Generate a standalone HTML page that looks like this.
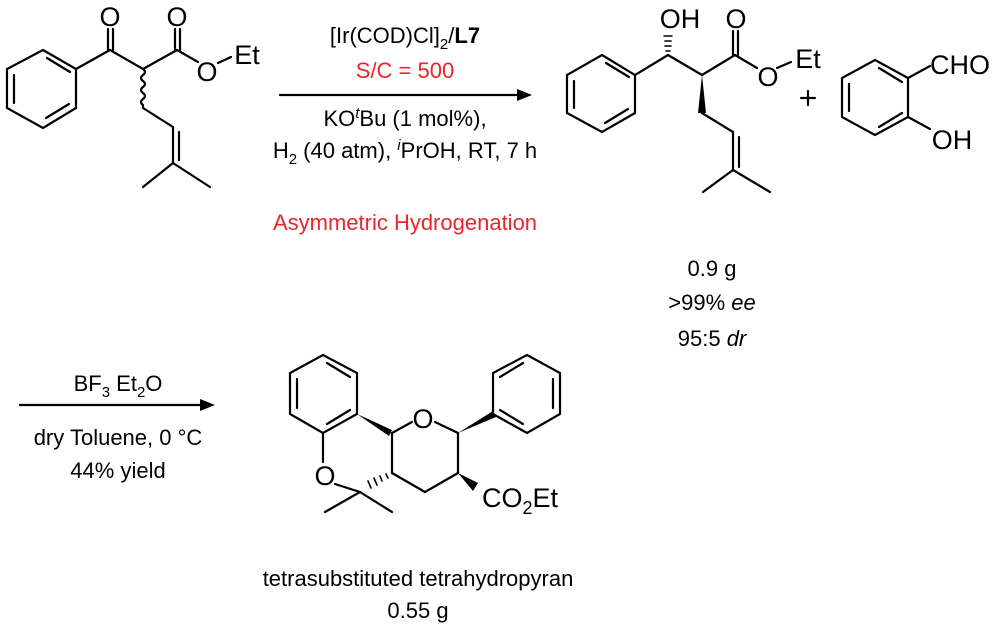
<!DOCTYPE html>
<html><head><style>
body{margin:0;background:#fff;}
svg{display:block;}
text{font-family:"Liberation Sans",Arial,sans-serif;font-size:22px;fill:#000;}
.a{font-size:27px;text-anchor:middle;}
.r{fill:#e8262b;}
</style></head><body>
<svg width="1000" height="629" viewBox="0 0 1000 629">
<g stroke="#000" stroke-width="2.2" fill="none" stroke-linecap="round">
<polygon points="43,50 76,69 76,108 43,128 7,108 7,69"/>
<line x1="47" y1="58" x2="70" y2="72"/><line x1="69" y1="104" x2="46" y2="118"/><line x1="14" y1="75" x2="14" y2="103"/>
<line x1="76" y1="69" x2="110" y2="50"/>
<line x1="108" y1="50" x2="108" y2="29"/><line x1="113" y1="50" x2="113" y2="29"/>
<line x1="110" y1="50" x2="143" y2="69"/><line x1="143" y1="69" x2="177" y2="50"/>
<line x1="175" y1="50" x2="175" y2="29"/><line x1="180" y1="50" x2="180" y2="29"/>
<line x1="177" y1="50" x2="198" y2="62"/><line x1="218" y1="63" x2="231" y2="57"/>
<path d="M143,69 q4,3 0,6 q-4,3 0,6 q4,3 0,6 q-4,3 0,6 q4,3 0,6 q-4,3 0,6 l0,3" />
<line x1="143" y1="108" x2="173" y2="127"/>
<line x1="173" y1="127" x2="173" y2="163"/><line x1="179" y1="132" x2="179" y2="160"/>
<line x1="173" y1="163" x2="143" y2="187"/><line x1="173" y1="163" x2="210" y2="187"/>
<polygon points="602,55 635,75 635,113 602,132 567,113 567,75"/>
<line x1="606" y1="63" x2="629" y2="77"/><line x1="628" y1="109" x2="605" y2="123"/><line x1="574" y1="81" x2="574" y2="108"/>
<line x1="635" y1="75" x2="668" y2="55"/><line x1="668" y1="55" x2="702" y2="75"/>
<line x1="702" y1="75" x2="735" y2="55"/>
<line x1="733" y1="55" x2="733" y2="31"/><line x1="738" y1="55" x2="738" y2="31"/>
<line x1="735" y1="55" x2="757" y2="68"/><line x1="777" y1="68" x2="791" y2="62"/>
<line x1="702" y1="113" x2="733" y2="132"/>
<line x1="733" y1="132" x2="733" y2="170"/><line x1="739" y1="137" x2="739" y2="167"/>
<line x1="733" y1="170" x2="703" y2="192"/><line x1="733" y1="170" x2="770" y2="192"/>
<g stroke-width="1.6"><line x1="666" y1="51" x2="670" y2="51"/><line x1="665" y1="46" x2="671" y2="46"/><line x1="665" y1="41" x2="671" y2="41"/><line x1="664" y1="36" x2="672" y2="36"/></g>
<line x1="808" y1="91" x2="808" y2="105"/><line x1="801" y1="98" x2="815" y2="98"/>
<polygon points="875,60 908,78 908,117 875,135 842,117 842,78"/>
<line x1="879" y1="68" x2="902" y2="82"/><line x1="902" y1="113" x2="879" y2="127"/><line x1="849" y1="84" x2="849" y2="111"/>
<line x1="908" y1="78" x2="930" y2="66"/><line x1="908" y1="117" x2="930" y2="129"/>
<polygon points="323,355 357,373 357,414 323,433 290,414 290,373"/>
<line x1="327" y1="363" x2="350" y2="377"/><line x1="350" y1="410" x2="327" y2="424"/><line x1="297" y1="379" x2="297" y2="408"/>
<polygon points="527,355 560,373 560,414 527,433 493,414 493,373"/>
<line x1="523" y1="363" x2="500" y2="377"/><line x1="553" y1="379" x2="553" y2="408"/><line x1="500" y1="410" x2="523" y2="424"/>
<line x1="392" y1="433" x2="412" y2="422"/><line x1="435" y1="422" x2="458" y2="433"/>
<line x1="392" y1="433" x2="392" y2="473"/><line x1="458" y1="433" x2="458" y2="473"/>
<line x1="392" y1="473" x2="425" y2="492"/><line x1="425" y1="492" x2="458" y2="473"/>
<line x1="323" y1="433" x2="323" y2="462"/><line x1="335" y1="484" x2="360" y2="492"/>
<line x1="360" y1="492" x2="325" y2="512"/><line x1="360" y1="492" x2="392" y2="512"/>
<g stroke-width="1.6"><line x1="386" y1="474" x2="388" y2="478"/><line x1="380" y1="476" x2="382" y2="481"/><line x1="374" y1="478" x2="377" y2="485"/><line x1="368" y1="481" x2="371" y2="488"/></g>
<line x1="280" y1="95" x2="520" y2="95"/>
<line x1="20" y1="405" x2="203" y2="405"/>
</g>
<g fill="#000">
<polygon points="702,75 698,113 706,113"/>
<polygon points="357,414 392,430 389,436"/>
<polygon points="458,433 493,411 496,417"/>
<polygon points="458,473 478,483 473,491"/>
<polygon points="532,95 517,89 517,101"/>
<polygon points="215,405 200,399 200,411"/>
</g>
<text class="a" x="110" y="26">O</text>
<text class="a" x="177" y="26">O</text>
<text class="a" x="207" y="81">O</text>
<text class="a" x="247" y="64">Et</text>
<text class="a" x="680" y="28">OH</text>
<text class="a" x="736" y="28">O</text>
<text class="a" x="768" y="86">O</text>
<text class="a" x="808" y="68">Et</text>
<text class="a" x="960" y="74">CHO</text>
<text class="a" x="952" y="149">OH</text>
<text class="a" x="423" y="428">O</text>
<text class="a" x="325" y="485">O</text>
<text x="482" y="507" style="font-size:27px">CO<tspan style="font-size:18px" dy="7">2</tspan><tspan dy="-7">Et</tspan></text>
<text x="405" y="43" text-anchor="middle">[Ir(COD)Cl]<tspan font-size="15" dy="6">2</tspan><tspan dy="-6">/</tspan><tspan font-weight="bold">L7</tspan></text>
<text x="405" y="78" text-anchor="middle" class="r">S/C = 500</text>
<text x="405" y="126" text-anchor="middle">KO<tspan font-size="15" font-style="italic" dy="-8">t</tspan><tspan dy="8">Bu (1 mol%),</tspan></text>
<text x="405" y="158" text-anchor="middle">H<tspan font-size="15" dy="6">2</tspan><tspan dy="-6"> (40 atm), </tspan><tspan font-size="15" font-style="italic" dy="-8">i</tspan><tspan dy="8">PrOH, RT, 7 h</tspan></text>
<text x="405" y="230" text-anchor="middle" class="r">Asymmetric Hydrogenation</text>
<text x="712" y="276" text-anchor="middle">0.9 g</text>
<text x="712" y="310" text-anchor="middle">&gt;99% <tspan font-style="italic">ee</tspan></text>
<text x="712" y="346" text-anchor="middle">95:5 <tspan font-style="italic">dr</tspan></text>
<text x="118" y="391" text-anchor="middle">BF<tspan font-size="15" dy="6">3</tspan><tspan dy="-6"> Et</tspan><tspan font-size="15" dy="6">2</tspan><tspan dy="-6">O</tspan></text>
<text x="118" y="445" text-anchor="middle">dry Toluene, 0 °C</text>
<text x="118" y="478" text-anchor="middle">44% yield</text>
<text x="418" y="586" text-anchor="middle">tetrasubstituted tetrahydropyran</text>
<text x="418" y="618" text-anchor="middle">0.55 g</text>
</svg>
</body></html>
